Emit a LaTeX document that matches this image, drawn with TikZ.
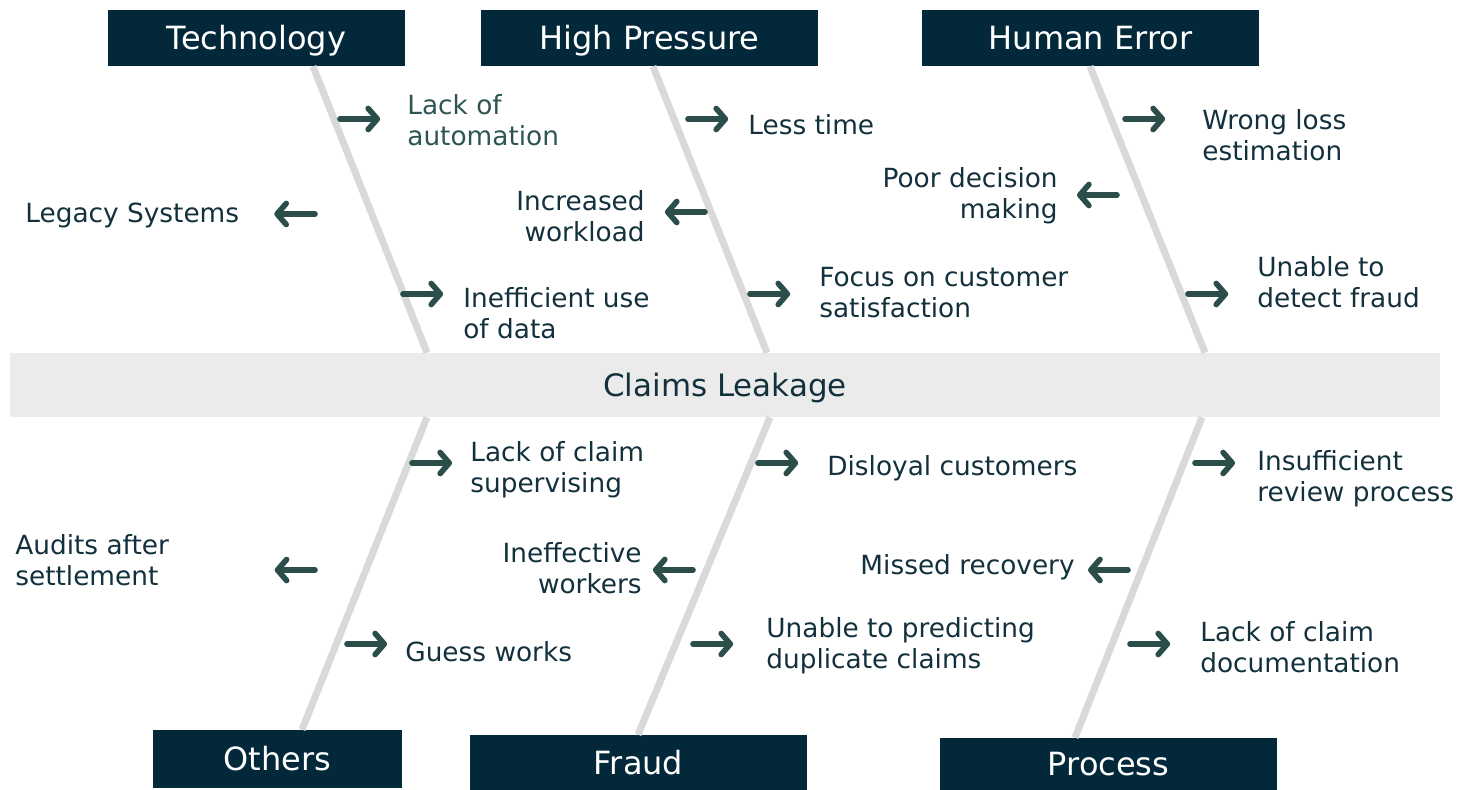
\documentclass[tikz,border=0pt]{standalone}
\usepackage{fontspec}
\setmainfont{DejaVu Sans}
\usepackage{tikz}
\usetikzlibrary{arrows.meta,positioning,calc}

\definecolor{headfill}{HTML}{03283A}
\definecolor{causetext}{HTML}{13313D}
\definecolor{tealtext}{HTML}{2E5553}
\definecolor{arrowcol}{HTML}{2C4E4B}
\definecolor{bonegray}{HTML}{D9D9D9}
\definecolor{spinegray}{HTML}{EBEBEB}

\begin{document}
\begin{tikzpicture}[
        x=0.02cm, y=-0.02cm,
        head/.style={fill=headfill, text=white, inner sep=0pt,
            minimum width=6.74cm, minimum height=1.12cm,
            text height=13.3pt, text depth=0pt,
            font=\fontsize{18.2}{21}\selectfont},
        spine/.style={fill=spinegray, text=causetext, inner sep=0pt,
            minimum width=28.6cm, minimum height=1.28cm,
            text height=12.8pt, text depth=0pt,
            font=\fontsize{17.6}{20}\selectfont},
        bone/.style={bonegray, line width=4pt},
        cause/.style={text=causetext, inner sep=0pt, align=left,
            font=\fontsize{15}{17.6}\selectfont},
        rcause/.style={cause, align=right, anchor=east},
        arr/.style={arrowcol, line width=3.2pt, line cap=round,
            -{Straight Barb[length=5.2pt,width=12pt,line cap=round,line join=round]}},
    ]
    \useasboundingbox (0,0) rectangle (1457,790);

    % spine and heads
    \node[spine] (spine) at (725,385) {Claims Leakage};
    \node[head, minimum width=5.94cm] (tech) at (256.5,38) {Technology};
    \node[head] (press) at (649.5,38) {High Pressure};
    \node[head] (human) at (1090.5,38) {Human Error};
    \node[head, minimum width=4.98cm, minimum height=1.16cm] (others) at (277.5,759) {Others};
    \node[head, minimum height=1.1cm] (fraud) at (638.5,762.5) {Fraud};
    \node[head, minimum height=1.04cm] (process) at (1108.5,764) {Process};

    % bones
    \draw[bone] (tech.south -| 313,0) -- (spine.north -| 427,0);
    \draw[bone] (press.south -| 653,0) -- (spine.north -| 767,0);
    \draw[bone] (human.south -| 1090,0) -- (spine.north -| 1205,0);
    \draw[bone] (spine.south -| 427,0) -- (others.north -| 302,0);
    \draw[bone] (spine.south -| 770,0) -- (fraud.north -| 638,0);
    \draw[bone] (spine.south -| 1202,0) -- (process.north -| 1075,0);

    % Technology
    \node[cause, anchor=west, text=tealtext] (lackauto) at (407,120) {Lack of\\automation};
    \node[cause, anchor=west] (legacy) at (25,215) {Legacy Systems};
    \node[cause, anchor=west] (ineffdata) at (463,313) {Inefficient use\\of data};
    \coordinate (lackauto-t) at (340,119);
    \coordinate (legacy-t) at (315,214);
    \coordinate (ineffdata-t) at (403,294);
    \draw[arr, shorten >=15.3pt] (lackauto-t) -- (lackauto-t -| lackauto.west);
    \draw[arr, shorten >=19.8pt] (legacy-t) -- (legacy-t -| legacy.east);
    \draw[arr, shorten >=11.3pt] (ineffdata-t) -- (ineffdata-t -| ineffdata.west);

    % High Pressure
    \node[cause, anchor=west] (lesstime) at (748,125) {Less time};
    \node[rcause] (workload) at (645,216) {Increased\\workload};
    \node[cause, anchor=west] (focus) at (819,293) {Focus on customer\\satisfaction};
    \coordinate (lesstime-t) at (688,119);
    \coordinate (workload-t) at (705,212);
    \coordinate (focus-t) at (750,294);
    \draw[arr, shorten >=11.3pt] (lesstime-t) -- (lesstime-t -| lesstime.west);
    \draw[arr, shorten >=11.3pt] (workload-t) -- (workload-t -| workload.east);
    \draw[arr, shorten >=16.4pt] (focus-t) -- (focus-t -| focus.west);

    % Human Error
    \node[cause, anchor=west] (wrongloss) at (1202,135) {Wrong loss\\estimation};
    \node[rcause] (poordec) at (1058,196) {Poor decision\\making};
    \node[cause, anchor=west] (detectfraud) at (1257,282) {Unable to\\detect fraud};
    \coordinate (wrongloss-t) at (1125,119);
    \coordinate (poordec-t) at (1117,195);
    \coordinate (detectfraud-t) at (1188,294);
    \draw[arr, shorten >=21pt] (wrongloss-t) -- (wrongloss-t -| wrongloss.west);
    \draw[arr, shorten >=10.8pt] (poordec-t) -- (poordec-t -| poordec.east);
    \draw[arr, shorten >=16.4pt] (detectfraud-t) -- (detectfraud-t -| detectfraud.west);

    % Others
    \node[cause, anchor=west] (supervise) at (470,470) {Lack of claim\\supervising};
    \node[cause, anchor=west] (audits) at (15,560) {Audits after\\settlement};
    \node[cause, anchor=west] (guess) at (405,652) {Guess works};
    \coordinate (supervise-t) at (412,463);
    \coordinate (audits-t) at (315,570);
    \coordinate (guess-t) at (347,644);
    \draw[arr, shorten >=10.2pt] (supervise-t) -- (supervise-t -| supervise.west);
    \draw[arr, shorten >=60pt] (audits-t) -- (audits-t -| audits.east);
    \draw[arr, shorten >=10.2pt] (guess-t) -- (guess-t -| guess.west);

    % Fraud
    \node[cause, anchor=west] (disloyal) at (827,468) {Disloyal customers};
    \node[rcause] (ineffwork) at (642,568) {Ineffective\\workers};
    \node[cause, anchor=west] (duplicate) at (766,646) {Unable to predicting\\duplicate claims};
    \coordinate (disloyal-t) at (758,463);
    \coordinate (ineffwork-t) at (693,570);
    \coordinate (duplicate-t) at (693,644);
    \draw[arr, shorten >=16.4pt] (disloyal-t) -- (disloyal-t -| disloyal.west);
    \draw[arr, shorten >=6.2pt] (ineffwork-t) -- (ineffwork-t -| ineffwork.east);
    \draw[arr, shorten >=18.7pt] (duplicate-t) -- (duplicate-t -| duplicate.west);

    % Process
    \node[cause, anchor=west] (review) at (1257,479) {Insufficient\\review process};
    \node[rcause] (recovery) at (1075,567) {Missed recovery};
    \node[cause, anchor=west] (document) at (1200,647) {Lack of claim\\documentation};
    \coordinate (review-t) at (1195,463);
    \coordinate (recovery-t) at (1128,570);
    \coordinate (document-t) at (1130,644);
    \draw[arr, shorten >=12.5pt] (review-t) -- (review-t -| review.west);
    \draw[arr, shorten >=7.4pt] (recovery-t) -- (recovery-t -| recovery.east);
    \draw[arr, shorten >=17pt] (document-t) -- (document-t -| document.west);
\end{tikzpicture}
\end{document}
